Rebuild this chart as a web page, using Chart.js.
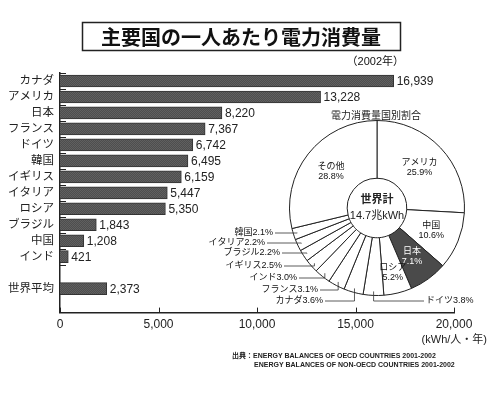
<!DOCTYPE html>
<html lang="ja">
<head>
<meta charset="utf-8">
<script src="https://cdn.jsdelivr.net/npm/chart.js@4.4.0/dist/chart.umd.min.js"></script>
<style>
  html, body { margin: 0; padding: 0; background: #fff; }
  #wrap { position: relative; width: 500px; height: 393px; }
  #barChart { position: absolute; left: 0; top: 0; }
  #shareChart { position: absolute; left: 200px; top: 100px; }
</style>
</head>
<body>
<div id="wrap">
  <canvas id="barChart" width="500" height="393" style="width:500px;height:393px"></canvas>
  <canvas id="shareChart" width="280" height="210" style="width:280px;height:210px"></canvas>
</div>
<script>
// --- data ---
const chartTitle = '主要国の一人あたり電力消費量';
const yearNote = '（2002年）';
const countries = ['カナダ', 'アメリカ', '日本', 'フランス', 'ドイツ', '韓国', 'イギリス', 'イタリア', 'ロシア', 'ブラジル', '中国', 'インド'];
const perCapita = [16939, 13228, 8220, 7367, 6742, 6495, 6159, 5447, 5350, 1843, 1208, 421];
const worldLabel = '世界平均';
const worldAverage = 2373;
const xMax = 20000;
const xStep = 5000;
const unitLabel = '(kWh/人・年)';
const sourceLines = ['出典：ENERGY BALANCES OF OECD COUNTRIES 2001-2002', 'ENERGY BALANCES OF NON-OECD COUNTRIES 2001-2002'];

const shareTitle = '電力消費量国別割合';
const shareLabels = ['アメリカ', '中国', '日本', 'ロシア', 'ドイツ', 'カナダ', 'フランス', 'インド', 'イギリス', 'ブラジル', 'イタリア', '韓国', 'その他'];
const shareValues = [25.9, 10.6, 7.1, 5.2, 3.8, 3.6, 3.1, 3.0, 2.5, 2.2, 2.2, 2.1, 28.8];
const worldTotalTitle = '世界計';
const worldTotal = '14.7兆kWh';

// gap row before the world average, and an empty row at the bottom
const barLabels = [...countries, '', worldLabel, ''];
const barValues = [...perCapita, null, worldAverage, null];

const FONT = "'Liberation Sans', 'Noto Sans CJK JP', sans-serif";
Chart.defaults.font.family = FONT;
Chart.defaults.color = '#222';

// halftone-ish fill for the bars
function barPattern() {
  const c = document.createElement('canvas');
  c.width = 2; c.height = 2;
  const g = c.getContext('2d');
  g.fillStyle = '#4e4e4e'; g.fillRect(0, 0, 2, 2);
  g.fillStyle = '#606060'; g.fillRect(0, 0, 1, 1); g.fillRect(1, 1, 1, 1);
  return g.createPattern(c, 'repeat');
}

const barExtras = {
  id: 'barExtras',
  afterDraw(chart) {
    const ctx = chart.ctx;
    const xs = chart.scales.x, ys = chart.scales.y;
    const area = chart.chartArea;
    ctx.save();

    // boxed title
    ctx.strokeStyle = '#222';
    ctx.lineWidth = 1.5;
    ctx.strokeRect(82.5, 22.5, 318, 28);
    ctx.fillStyle = '#111';
    ctx.font = "bold 20px 'Noto Sans CJK JP', sans-serif";
    ctx.textAlign = 'center';
    ctx.textBaseline = 'middle';
    ctx.fillText(chartTitle, 241, 37);

    ctx.font = '11px ' + FONT;
    ctx.textAlign = 'right';
    ctx.fillText(yearNote, 404, 62);

    // value labels
    ctx.font = '12px ' + FONT;
    ctx.textAlign = 'left';
    ctx.fillStyle = '#222';
    chart.getDatasetMeta(0).data.forEach((bar, i) => {
      const v = barValues[i];
      if (v == null) return;
      ctx.fillText(v.toLocaleString('en-US'), bar.x + 3, bar.y + 1);
    });

    // short marks on the y axis between country rows
    const slot = ys.getPixelForValue(1) - ys.getPixelForValue(0);
    ctx.lineWidth = 1;
    ctx.beginPath();
    for (let i = 0; i <= countries.length; i++) {
      const yy = Math.round(ys.getPixelForValue(i) - slot / 2) + 0.5;
      ctx.moveTo(area.left, yy);
      ctx.lineTo(area.left + 6, yy);
    }
    // inward ticks on the x axis
    xs.ticks.forEach(t => {
      const px = Math.round(xs.getPixelForValue(t.value)) + 0.5;
      ctx.moveTo(px, area.bottom);
      ctx.lineTo(px, area.bottom - 5);
    });
    ctx.stroke();

    // unit
    ctx.font = '11px ' + FONT;
    ctx.textAlign = 'right';
    ctx.fillText(unitLabel, 487, 340);

    // source
    ctx.font = 'bold 7px ' + FONT;
    ctx.textAlign = 'left';
    ctx.fillText(sourceLines[0], 232, 356);
    ctx.fillText(sourceLines[1], 254, 365);
    ctx.restore();
  }
};

new Chart(document.getElementById('barChart'), {
  type: 'bar',
  data: {
    labels: barLabels,
    datasets: [{
      data: barValues,
      backgroundColor: barPattern(),
      borderColor: '#333',
      borderWidth: 1,
      barThickness: 12
    }]
  },
  options: {
    indexAxis: 'y',
    responsive: false,
    animation: false,
    events: [],
    locale: 'en-US',
    layout: { padding: { left: 0, right: 46, top: 73, bottom: 56 } },
    scales: {
      x: {
        min: 0,
        max: xMax,
        ticks: { stepSize: xStep, padding: 5, font: { size: 12 }, color: '#222' },
        grid: { display: false, drawTicks: false },
        border: { display: true, color: '#222', width: 1.5 }
      },
      y: {
        afterFit(scale) { scale.width = 60; },
        ticks: { padding: 6, font: { size: 11.5 }, color: '#222', autoSkip: false },
        grid: { display: false, drawTicks: false },
        border: { display: true, color: '#222', width: 1.5 }
      }
    },
    plugins: { legend: { display: false }, tooltip: { enabled: false } }
  },
  plugins: [barExtras]
});

// --- inset doughnut ---
const insideLabels = { 'アメリカ': 0.5, '中国': 0.5, '日本': 0.52, 'ロシア': 0.63, 'その他': 0.5 };
// label end points relative to the doughnut centre
const leaderLabels = {
  '韓国': [-104, 25, 'right'],
  'イタリア': [-112, 35, 'right'],
  'ブラジル': [-97, 45, 'right'],
  'イギリス': [-95, 58, 'right'],
  'インド': [-80, 70, 'right'],
  'フランス': [-59, 82, 'right'],
  'カナダ': [-54, 93, 'right'],
  'ドイツ': [49, 93, 'left']
};

const shareExtras = {
  id: 'shareExtras',
  afterDraw(chart) {
    const ctx = chart.ctx;
    const arcs = chart.getDatasetMeta(0).data;
    const cx = arcs[0].x, cy = arcs[0].y;
    ctx.save();
    ctx.fillStyle = '#222';
    ctx.textAlign = 'center';
    ctx.textBaseline = 'middle';
    ctx.font = "10px 'Noto Sans CJK JP', sans-serif";
    ctx.fillText(shareTitle, cx - 1, 15);

    ctx.font = "bold 11px 'Noto Sans CJK JP', sans-serif";
    ctx.fillText(worldTotalTitle, cx, cy - 9);
    ctx.font = '11px ' + FONT;
    ctx.fillText(worldTotal, cx, cy + 8);

    ctx.font = '9px ' + FONT;
    arcs.forEach((arc, i) => {
      const name = shareLabels[i];
      const pct = shareValues[i].toFixed(1) + '%';
      const mid = (arc.startAngle + arc.endAngle) / 2;
      if (name in insideLabels) {
        const r = arc.innerRadius + (arc.outerRadius - arc.innerRadius) * insideLabels[name];
        const px = cx + Math.cos(mid) * r, py = cy + Math.sin(mid) * r;
        ctx.fillStyle = name === '日本' ? '#fff' : '#111';
        ctx.textAlign = 'center';
        ctx.fillText(name, px, py - 5);
        ctx.fillText(pct, px, py + 5);
      } else if (name in leaderLabels) {
        const [dx, dy, align] = leaderLabels[name];
        const lx = cx + dx, ly = cy + dy;
        const r = arc.outerRadius - 4;
        const ax = cx + Math.cos(mid) * r, ay = cy + Math.sin(mid) * r;
        const startX = align === 'right' ? lx + 2 : lx - 2;
        ctx.strokeStyle = '#333';
        ctx.lineWidth = 0.8;
        ctx.beginPath();
        ctx.moveTo(startX, ly);
        ctx.lineTo(ax, ly);
        ctx.lineTo(ax, ay);
        ctx.stroke();
        ctx.fillStyle = '#111';
        ctx.textAlign = align;
        ctx.fillText(name + pct, lx, ly);
      }
    });
    ctx.restore();
  }
};

new Chart(document.getElementById('shareChart'), {
  type: 'doughnut',
  data: {
    labels: shareLabels,
    datasets: [{
      data: shareValues,
      backgroundColor: shareLabels.map(l => l === '日本' ? '#4a4a4a' : '#fff'),
      borderColor: '#222',
      borderWidth: 1,
      hoverOffset: 0
    }]
  },
  options: {
    responsive: false,
    animation: false,
    events: [],
    cutout: '34%',
    layout: { padding: { left: 89, right: 15, top: 20, bottom: 14 } },
    plugins: { legend: { display: false }, tooltip: { enabled: false } }
  },
  plugins: [shareExtras]
});
</script>
</body>
</html>
